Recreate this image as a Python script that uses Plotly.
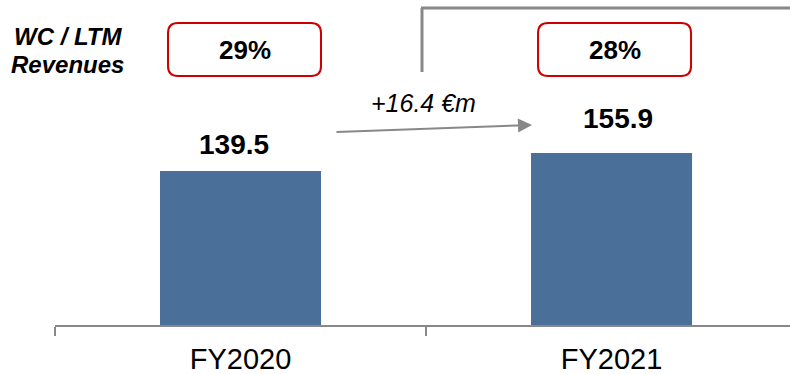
import plotly.graph_objects as go

# ---- data ----
categories = ["FY2020", "FY2021"]
values = [139.5, 155.9]
value_labels = ["139.5", "155.9"]
ratio_labels = ["29%", "28%"]
ratio_title = ["WC / LTM", "Revenues"]
delta_label = "+16.4 €m"

# ---- layout constants (pixels) ----
W, Hh = 790, 374
ML, MR, MT, MB = 55, 0, 0, 49
PW, PH = W - ML - MR, Hh - MT - MB
XMAX = 1.481
YMAX = 294.4
BAR_COLOR = "#4A6F98"
GREY = "#888888"
RED = "#CC0000"
FONT = "Liberation Sans"


def px(x):
    return (x - ML) / PW


def py(y):
    return (Hh - MB - y) / PH


def cat_px(i):
    # pixel x of a category centre along the axis
    return ML + (i + 0.5) / (XMAX + 0.5) * PW


fig = go.Figure()
fig.add_trace(go.Bar(
    x=categories, y=values, width=0.434,
    marker=dict(color=BAR_COLOR, line=dict(width=0)),
    hoverinfo="skip",
))

annotations = []
shapes = []

# value labels above bars
label_yshift = [27, 34]
label_xshift = [-7, 6]
for i, (c, v, t) in enumerate(zip(categories, values, value_labels)):
    annotations.append(dict(
        x=c, y=v, xref="x", yref="y", text=f"<b>{t}</b>", showarrow=False,
        xanchor="center", yanchor="middle", yshift=label_yshift[i], xshift=label_xshift[i],
        font=dict(family=FONT, size=28, color="black"),
    ))

# rounded boxes with ratio
box_offset = [4, 3]
for i, t in enumerate(ratio_labels):
    cx = cat_px(i) + box_offset[i]
    x0, x1 = cx - 76.5, cx + 76.5
    y0, y1 = 23, 76
    r = 10
    path = (
        f"M {px(x0 + r)},{py(y0)} L {px(x1 - r)},{py(y0)} "
        f"Q {px(x1)},{py(y0)} {px(x1)},{py(y0 + r)} "
        f"L {px(x1)},{py(y1 - r)} Q {px(x1)},{py(y1)} {px(x1 - r)},{py(y1)} "
        f"L {px(x0 + r)},{py(y1)} Q {px(x0)},{py(y1)} {px(x0)},{py(y1 - r)} "
        f"L {px(x0)},{py(y0 + r)} Q {px(x0)},{py(y0)} {px(x0 + r)},{py(y0)} Z"
    )
    shapes.append(dict(type="path", xref="paper", yref="paper", path=path,
                       line=dict(color=RED, width=2), fillcolor="white", layer="above"))
    annotations.append(dict(
        x=px(cx), y=py(50), xref="paper", yref="paper", text=f"<b>{t}</b>",
        showarrow=False, xanchor="center", yanchor="middle",
        font=dict(family=FONT, size=26, color="black"),
    ))

# left title
for txt, yc, xc in zip(ratio_title, [37, 64], [68, 67]):
    annotations.append(dict(
        x=px(xc), y=py(yc), xref="paper", yref="paper", text=f"<b><i>{txt}</i></b>",
        showarrow=False, xanchor="center", yanchor="middle",
        font=dict(family=FONT, size=24, color="black"),
    ))

# bracket
shapes.append(dict(type="line", xref="paper", yref="paper",
                   x0=px(422), x1=px(422), y0=py(72), y1=py(8),
                   line=dict(color=GREY, width=3)))
shapes.append(dict(type="line", xref="paper", yref="paper",
                   x0=px(421), x1=px(795), y0=py(8), y1=py(8),
                   line=dict(color=GREY, width=3)))

# arrow
annotations.append(dict(
    x=px(532), y=py(125), xref="paper", yref="paper",
    ax=-197, ay=7, axref="pixel", ayref="pixel", text="",
    showarrow=True, arrowhead=2, arrowsize=1.4, arrowwidth=2, arrowcolor=GREY,
))
annotations.append(dict(
    x=px(423), y=py(103), xref="paper", yref="paper", text=f"<i>{delta_label}</i>",
    showarrow=False, xanchor="center", yanchor="middle",
    font=dict(family=FONT, size=25, color="black"),
))

fig.update_layout(
    width=W, height=Hh,
    margin=dict(l=ML, r=MR, t=MT, b=MB, pad=0),
    paper_bgcolor="white", plot_bgcolor="white",
    showlegend=False,
    annotations=annotations, shapes=shapes,
    xaxis=dict(
        type="category", range=[-0.5, XMAX],
        showline=True, linecolor=GREY, linewidth=2,
        ticks="outside", tickson="boundaries", ticklen=9, tickwidth=2, tickcolor=GREY,
        ticklabelstandoff=7, automargin=False,
        showgrid=False, zeroline=False,
        tickfont=dict(family=FONT, size=29, color="black"),
    ),
    yaxis=dict(range=[0, YMAX], visible=False, showgrid=False, zeroline=False),
)

fig.write_html("out.html")
